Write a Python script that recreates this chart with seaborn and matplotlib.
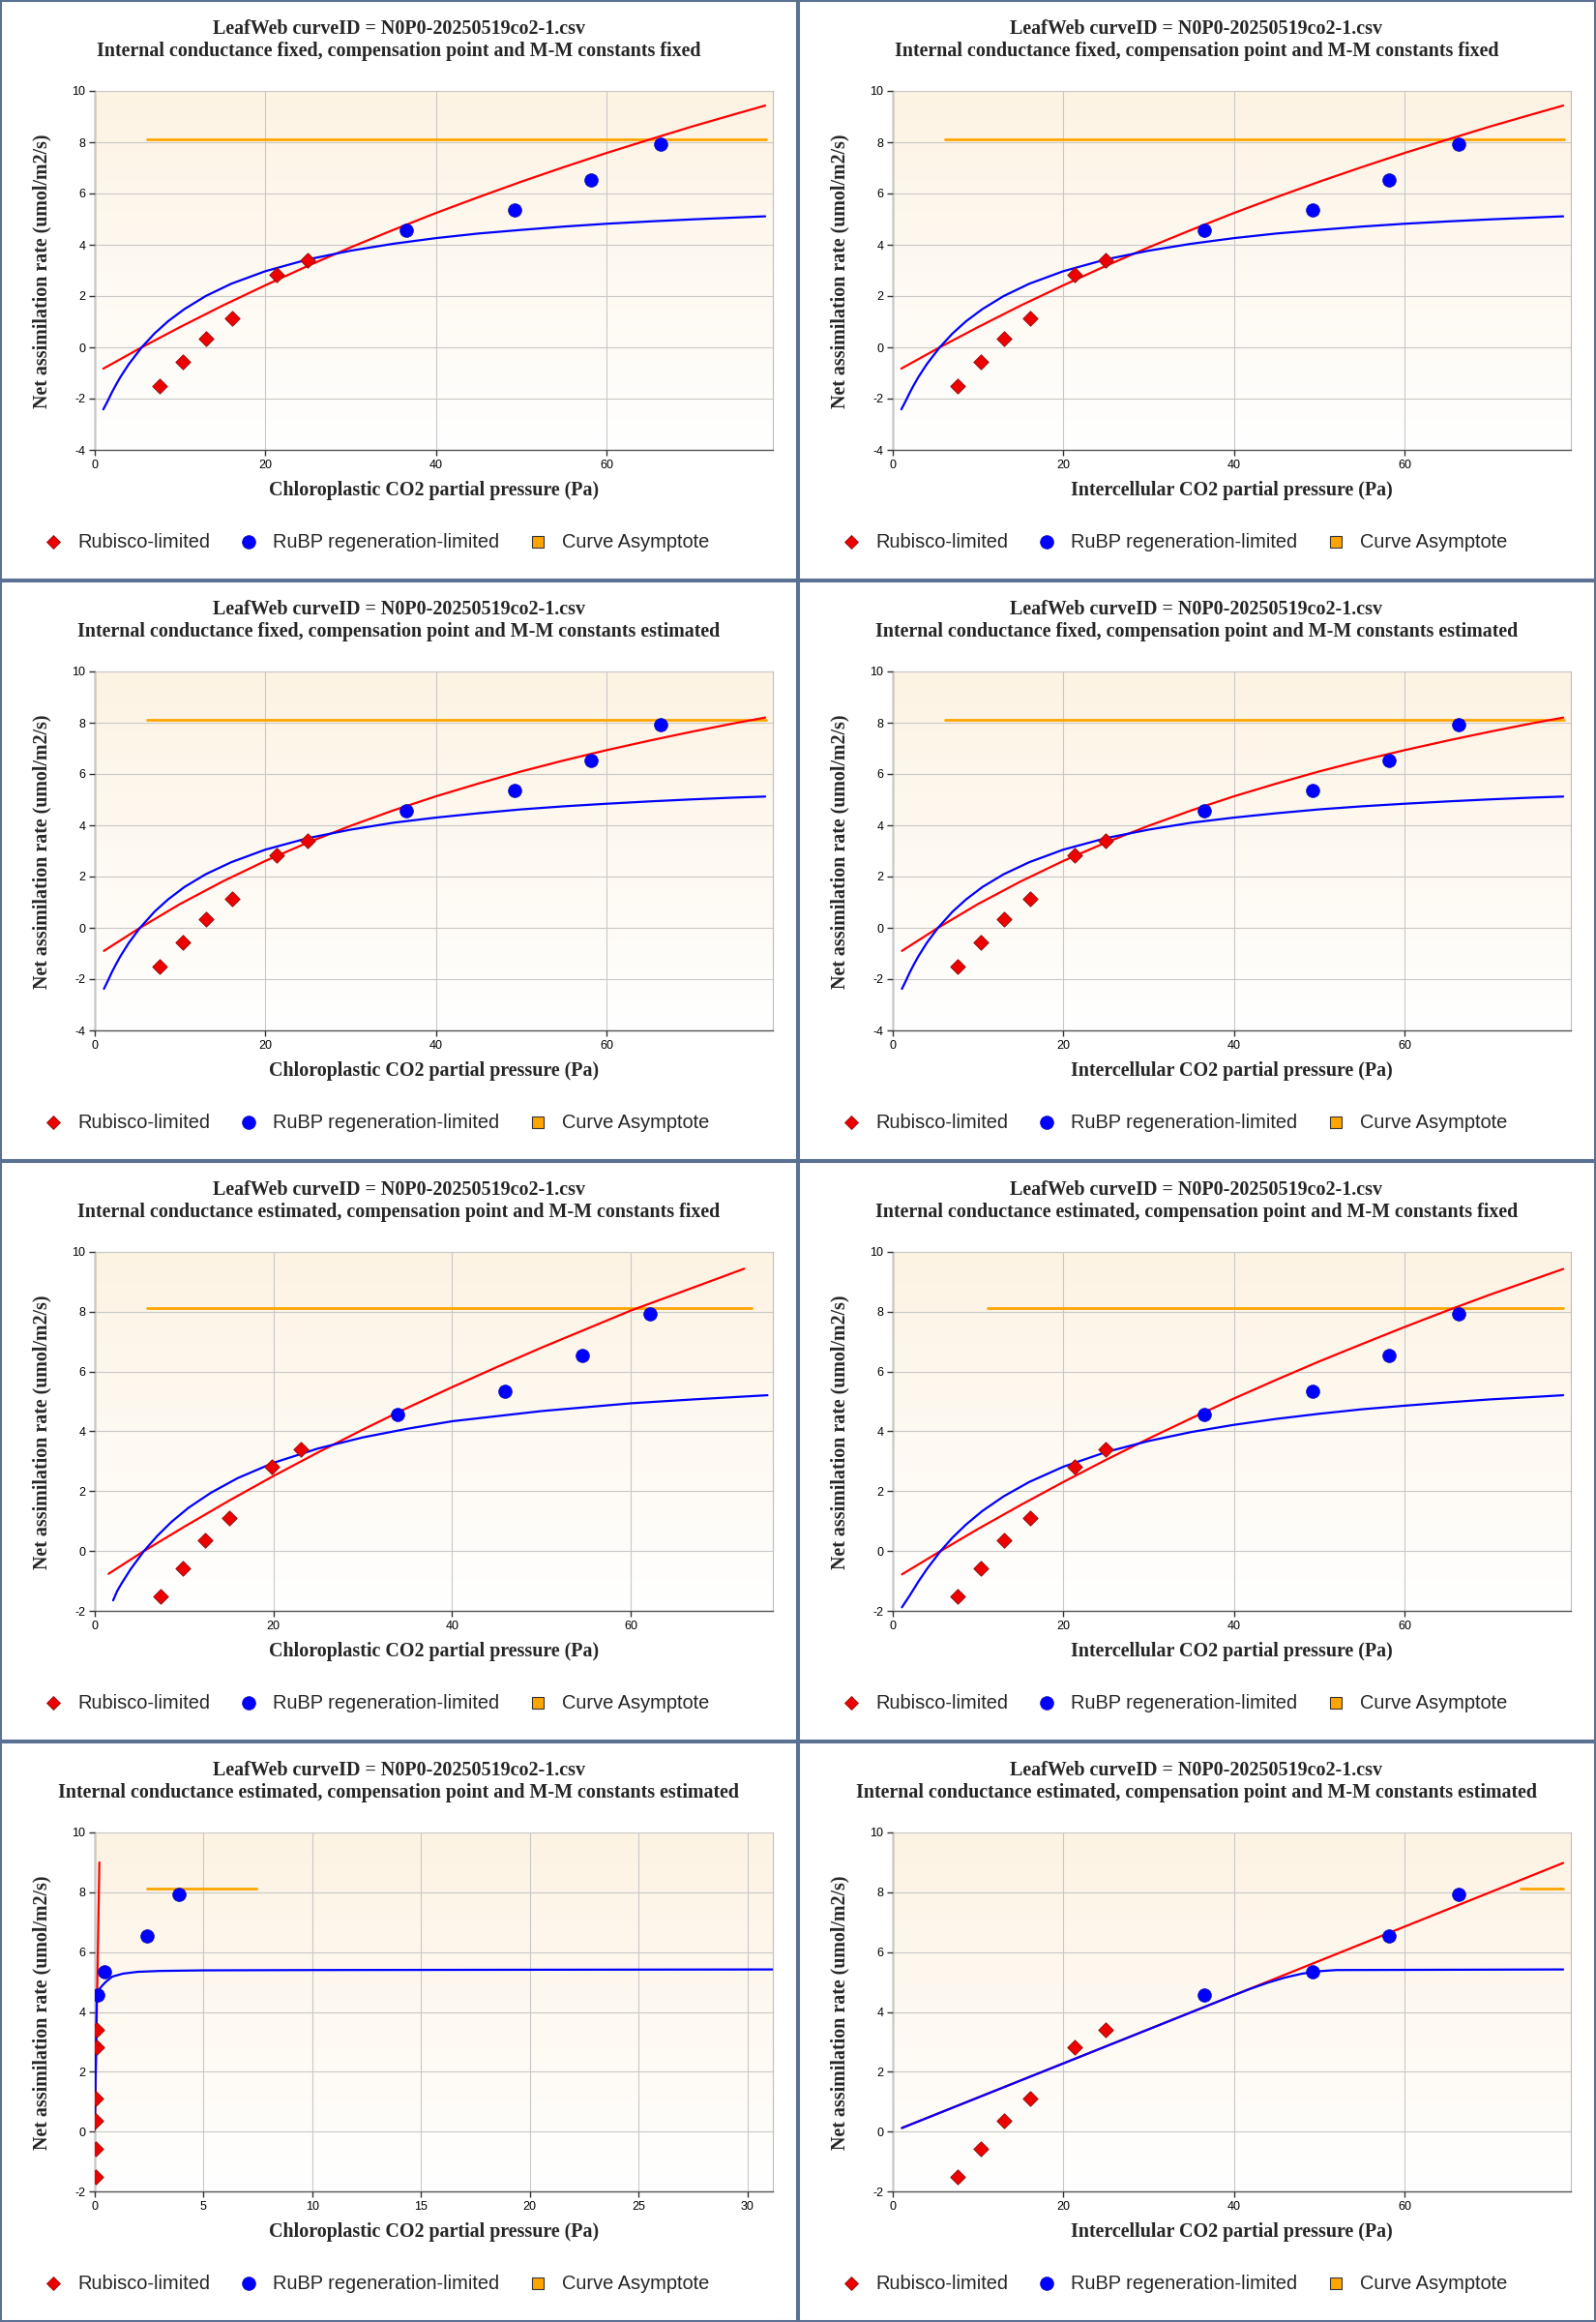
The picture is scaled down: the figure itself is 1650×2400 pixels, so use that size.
# -*- coding: utf-8 -*-

## LeafWeb A/Ci fits : 8 panels (4 fits x chloroplastic / intercellular axis)

import numpy as np
import pandas as pd
import seaborn as sns
import matplotlib
matplotlib.use("Agg")
from matplotlib import pyplot as plt
from matplotlib.lines import Line2D
from matplotlib.patches import Rectangle
from matplotlib.colors import LinearSegmentedColormap

sns.set_style("white")
plt.rcParams['font.family'] = ['Liberation Sans', 'DejaVu Sans']
plt.rcParams['axes.unicode_minus'] = False


##Les données

curve_id = "LeafWeb curveID = N0P0-20250519co2-1.csv"

# mesures : 6 points limités Rubisco, 4 points limités RuBP
a_obs = [-1.50, -0.57, 0.35, 1.12, 2.82, 3.40, 4.57, 5.34, 6.53, 7.93]
limit_obs = ["Rubisco"] * 6 + ["RuBP"] * 4
ci_obs = [7.6, 10.3, 13.05, 16.05, 21.3, 25.0, 36.5, 49.2, 58.2, 66.3]
cc_gm_est_fixed = [7.35, 9.8, 12.3, 15.04, 19.77, 23.08, 33.85, 45.9, 54.6, 62.2]
cc_gm_est_est = [0.04, 0.04, 0.05, 0.06, 0.07, 0.09, 0.14, 0.44, 2.38, 3.86]

asymptote = 8.13

# fit 1 : gm fixe, constantes fixes
fit1_red_x = [1.0, 5.5, 10, 15, 20, 25, 30, 35, 40, 45, 50, 55, 60, 65, 70, 75, 78.6]
fit1_red_y = [-0.83, 0.0, 0.79, 1.63, 2.42, 3.18, 3.90, 4.58, 5.24, 5.86, 6.46, 7.03, 7.58, 8.10, 8.61, 9.09, 9.43]
fit1_blue_x = [1.0, 1.5, 2.0, 2.5, 3.0, 4.0, 5.5, 7.0, 8.6, 10.5, 13, 16, 20, 25, 30, 35, 40, 45, 50, 55, 60, 65, 70, 75, 78.6]
fit1_blue_y = [-2.42, -2.10, -1.76, -1.45, -1.16, -0.65, 0.0, 0.54, 1.02, 1.49, 2.0, 2.48, 2.97, 3.43, 3.77, 4.04,
               4.26, 4.44, 4.58, 4.71, 4.82, 4.91, 4.99, 5.06, 5.11]
fit1_asym_x = [6.1, 78.7]

# fit 2 : gm fixe, constantes estimées
fit2_red_x = [1.07, 5.3, 10, 15, 20, 25, 30, 35, 40, 45, 50, 55, 60, 65, 70, 75, 78.6]
fit2_red_y = [-0.90, 0.0, 0.93, 1.81, 2.61, 3.33, 3.98, 4.58, 5.13, 5.63, 6.10, 6.53, 6.93, 7.30, 7.65, 7.98, 8.20]
fit2_blue_x = [1.07, 1.5, 2.0, 2.5, 3.0, 4.0, 5.3, 7.0, 8.6, 10.5, 13, 16, 20, 25, 30, 35, 40, 45, 50, 55, 60, 65, 70, 75, 78.6]
fit2_blue_y = [-2.38, -2.09, -1.73, -1.41, -1.11, -0.58, 0.0, 0.63, 1.11, 1.59, 2.09, 2.56, 3.05, 3.50, 3.83, 4.10,
               4.30, 4.47, 4.62, 4.74, 4.84, 4.93, 5.01, 5.08, 5.12]
fit2_asym_x = [6.1, 78.7]

# fit 3 : gm estimé, constantes fixes (axe chloroplastique)
fit3_cc_red_x = [1.54, 5.5, 10, 15, 20, 25, 30, 35, 40, 45, 50, 55, 60, 65, 72.7]
fit3_cc_red_y = [-0.76, 0.0, 0.81, 1.68, 2.51, 3.30, 4.06, 4.79, 5.48, 6.15, 6.80, 7.42, 8.04, 8.59, 9.44]
fit3_cc_blue_x = [2.05, 2.5, 3.0, 4.0, 5.5, 7.0, 8.6, 10.5, 13, 16, 20, 25, 30, 35, 40, 45, 50, 55, 60, 67, 75.3]
fit3_cc_blue_y = [-1.65, -1.34, -1.08, -0.61, 0.0, 0.51, 0.98, 1.45, 1.95, 2.44, 2.95, 3.43, 3.80, 4.09, 4.34,
                  4.51, 4.68, 4.81, 4.94, 5.07, 5.21]
fit3_cc_asym_x = [5.9, 73.5]

# fit 3 : axe intercellulaire
fit3_ci_red_x = [1.07, 5.6, 10, 15, 20, 25, 30, 35, 40, 45, 50, 55, 60, 65, 70, 75, 78.6]
fit3_ci_red_y = [-0.78, 0.0, 0.74, 1.54, 2.31, 3.05, 3.76, 4.44, 5.10, 5.73, 6.34, 6.92, 7.49, 8.04, 8.57, 9.07, 9.43]
fit3_ci_blue_x = [1.07, 2.0, 3.0, 4.0, 5.6, 7.0, 8.6, 10.5, 13, 16, 20, 25, 30, 35, 40, 45, 50, 55, 60, 65, 70, 75, 78.6]
fit3_ci_blue_y = [-1.88, -1.48, -1.02, -0.60, 0.0, 0.45, 0.89, 1.34, 1.83, 2.31, 2.82, 3.31, 3.68, 3.98, 4.22,
                  4.42, 4.59, 4.74, 4.86, 4.97, 5.07, 5.15, 5.21]
fit3_ci_asym_x = [11.1, 78.6]

# fit 4 : gm estimé, constantes estimées
fit4_cc_red_x = [0.0, 0.21]
fit4_cc_red_y = [0.05, 9.0]
fit4_cc_blue_x = [0.0, 0.05, 0.09, 0.2, 0.33, 0.5, 0.8, 1.3, 1.96, 3.0, 5, 10, 20, 31.2]
fit4_cc_blue_y = [0.1, 2.5, 4.5, 4.75, 4.87, 5.0, 5.18, 5.28, 5.34, 5.37, 5.39, 5.40, 5.41, 5.42]
fit4_cc_asym_x = [2.38, 7.43]

fit4_ci_red_x = [1.07, 40, 78.6]
fit4_ci_red_y = [0.12, 4.56, 8.98]
fit4_ci_blue_x = [1.07, 40, 42, 44, 46, 48, 50, 52, 78.6]
fit4_ci_blue_y = [0.12, 4.56, 4.78, 4.98, 5.15, 5.28, 5.36, 5.40, 5.42]
fit4_ci_asym_x = [73.6, 78.6]

sub_fixed_fixed = "Internal conductance fixed, compensation point and M-M constants fixed"
sub_fixed_est = "Internal conductance fixed, compensation point and M-M constants estimated"
sub_est_fixed = "Internal conductance estimated, compensation point and M-M constants fixed"
sub_est_est = "Internal conductance estimated, compensation point and M-M constants estimated"
xlab_cc = "Chloroplastic CO2 partial pressure (Pa)"
xlab_ci = "Intercellular CO2 partial pressure (Pa)"


##Description des 8 panneaux (ligne, colonne)

panels = [
    dict(sub=sub_fixed_fixed, xlab=xlab_cc, x=ci_obs, rx=fit1_red_x, ry=fit1_red_y,
         bx=fit1_blue_x, by=fit1_blue_y, ax_=fit1_asym_x, xmax=79.5, ylim=(-4, 10), xt=[0, 20, 40, 60]),
    dict(sub=sub_fixed_fixed, xlab=xlab_ci, x=ci_obs, rx=fit1_red_x, ry=fit1_red_y,
         bx=fit1_blue_x, by=fit1_blue_y, ax_=fit1_asym_x, xmax=79.5, ylim=(-4, 10), xt=[0, 20, 40, 60]),
    dict(sub=sub_fixed_est, xlab=xlab_cc, x=ci_obs, rx=fit2_red_x, ry=fit2_red_y,
         bx=fit2_blue_x, by=fit2_blue_y, ax_=fit2_asym_x, xmax=79.5, ylim=(-4, 10), xt=[0, 20, 40, 60]),
    dict(sub=sub_fixed_est, xlab=xlab_ci, x=ci_obs, rx=fit2_red_x, ry=fit2_red_y,
         bx=fit2_blue_x, by=fit2_blue_y, ax_=fit2_asym_x, xmax=79.5, ylim=(-4, 10), xt=[0, 20, 40, 60]),
    dict(sub=sub_est_fixed, xlab=xlab_cc, x=cc_gm_est_fixed, rx=fit3_cc_red_x, ry=fit3_cc_red_y,
         bx=fit3_cc_blue_x, by=fit3_cc_blue_y, ax_=fit3_cc_asym_x, xmax=75.9, ylim=(-2, 10), xt=[0, 20, 40, 60]),
    dict(sub=sub_est_fixed, xlab=xlab_ci, x=ci_obs, rx=fit3_ci_red_x, ry=fit3_ci_red_y,
         bx=fit3_ci_blue_x, by=fit3_ci_blue_y, ax_=fit3_ci_asym_x, xmax=79.5, ylim=(-2, 10), xt=[0, 20, 40, 60]),
    dict(sub=sub_est_est, xlab=xlab_cc, x=cc_gm_est_est, rx=fit4_cc_red_x, ry=fit4_cc_red_y,
         bx=fit4_cc_blue_x, by=fit4_cc_blue_y, ax_=fit4_cc_asym_x, xmax=31.17, ylim=(-2, 10), xt=[0, 5, 10, 15, 20, 25, 30]),
    dict(sub=sub_est_est, xlab=xlab_ci, x=ci_obs, rx=fit4_ci_red_x, ry=fit4_ci_red_y,
         bx=fit4_ci_blue_x, by=fit4_ci_blue_y, ax_=fit4_ci_asym_x, xmax=79.5, ylim=(-2, 10), xt=[0, 20, 40, 60]),
]


##Mise en page (pixels -> fraction de figure)

W, H = 1650, 2400
PW, PH = 825, 600

def fx(px):
    return px / W

def fy(py):
    return 1 - py / H

bg_cmap = LinearSegmentedColormap.from_list("bg", ["#fdf3e3", "#ffffff"])
border_col = "#5a7194"
serif = ['Liberation Serif', 'DejaVu Serif']

fig = plt.figure(figsize=(W / 100, H / 100), dpi=100)
fig.patch.set_facecolor("white")

handles = [
    Line2D([], [], marker='D', linestyle='none', markerfacecolor='#ee0000',
           markeredgecolor='#8a1010', markeredgewidth=0.6, markersize=7, label='Rubisco-limited'),
    Line2D([], [], marker='o', linestyle='none', markerfacecolor='#0000ff',
           markeredgecolor='#0000aa', markeredgewidth=0.4, markersize=10, label='RuBP regeneration-limited'),
    Line2D([], [], marker='s', linestyle='none', markerfacecolor='#ffa500',
           markeredgecolor='#333333', markeredgewidth=0.8, markersize=8.5, label='Curve Asymptote'),
]

for i, p in enumerate(panels):
    row, col = i // 2, i % 2
    x0, y0 = col * PW, row * PH

    # zone de tracé
    ax = fig.add_axes([fx(x0 + 98), fy(y0 + 465), (799 - 98) / W, (465 - 94) / H])
    ax.imshow(np.linspace(0, 1, 256).reshape(-1, 1), cmap=bg_cmap, aspect='auto',
              extent=[0, 1, 0, 1], transform=ax.transAxes, zorder=0)

    # asymptote, courbes du modèle
    sns.lineplot(x=p["ax_"], y=[asymptote, asymptote], ax=ax, color='#ffa500', lw=2.0, zorder=3)
    sns.lineplot(x=p["rx"], y=p["ry"], ax=ax, color='#ff0000', lw=1.6, sort=False, estimator=None, zorder=4)
    sns.lineplot(x=p["bx"], y=p["by"], ax=ax, color='#0000ff', lw=1.6, sort=False, estimator=None, zorder=5)

    # points mesurés
    df = pd.DataFrame({"x": p["x"], "a": a_obs, "limit": limit_obs})
    sns.scatterplot(data=df[df["limit"] == "Rubisco"], x="x", y="a", ax=ax, marker='D',
                    s=62, color='#ee0000', edgecolor='#8a1010', linewidth=0.6, zorder=6)
    sns.scatterplot(data=df[df["limit"] == "RuBP"], x="x", y="a", ax=ax, marker='o',
                    s=100, color='#0000ff', edgecolor='#0000aa', linewidth=0.4, zorder=6)

    ax.set_xlim(0, p["xmax"])
    ax.set_ylim(*p["ylim"])
    ax.set_xticks(p["xt"])
    ax.set_yticks(np.arange(p["ylim"][0], 11, 2))
    ax.set_xlabel("")
    ax.set_ylabel("")
    ax.grid(True, color='#c8c8c8', lw=0.8)
    ax.set_axisbelow(False)
    for gl in ax.get_xgridlines() + ax.get_ygridlines():
        gl.set_zorder(1)
    ax.tick_params(direction='out', length=4, width=1, color='#333333', labelsize=9,
                   labelcolor='black', pad=3, left=True, bottom=True)
    for s in ['left', 'bottom']:
        ax.spines[s].set_color('#555555')
        ax.spines[s].set_linewidth(1.0)
    for s in ['top', 'right']:
        ax.spines[s].set_color('#bdbdbd')
        ax.spines[s].set_linewidth(0.8)

    # titres
    fig.text(fx(x0 + 412), fy(y0 + 30), curve_id, ha='center', va='center',
             family=serif, fontweight='bold', fontsize=14.4)
    fig.text(fx(x0 + 412), fy(y0 + 53), p["sub"], ha='center', va='center',
             family=serif, fontweight='bold', fontsize=14.4)
    fig.text(fx(x0 + 448.5), fy(y0 + 507), p["xlab"], ha='center', va='center',
             family=serif, fontweight='bold', fontsize=14.4)
    fig.text(fx(x0 + 43), fy(y0 + 280), "Net assimilation rate (umol/m2/s)", ha='center',
             va='center', rotation=90, family=serif, fontweight='bold', fontsize=14.4)

    # légende
    fig.legend(handles=handles, loc='center left', bbox_to_anchor=(fx(x0 + 45), fy(y0 + 561)),
               ncol=3, frameon=False, fontsize=14.4, handlelength=1.0, handletextpad=0.75,
               columnspacing=1.5, borderpad=0, borderaxespad=0)

    # cadre du panneau
    fig.patches.append(Rectangle((fx(x0), fy(y0 + PH)), PW / W, PH / H, transform=fig.transFigure,
                                 fill=False, edgecolor=border_col, lw=2.9, zorder=10))

fig.savefig("out.png", dpi=100, facecolor="white")
